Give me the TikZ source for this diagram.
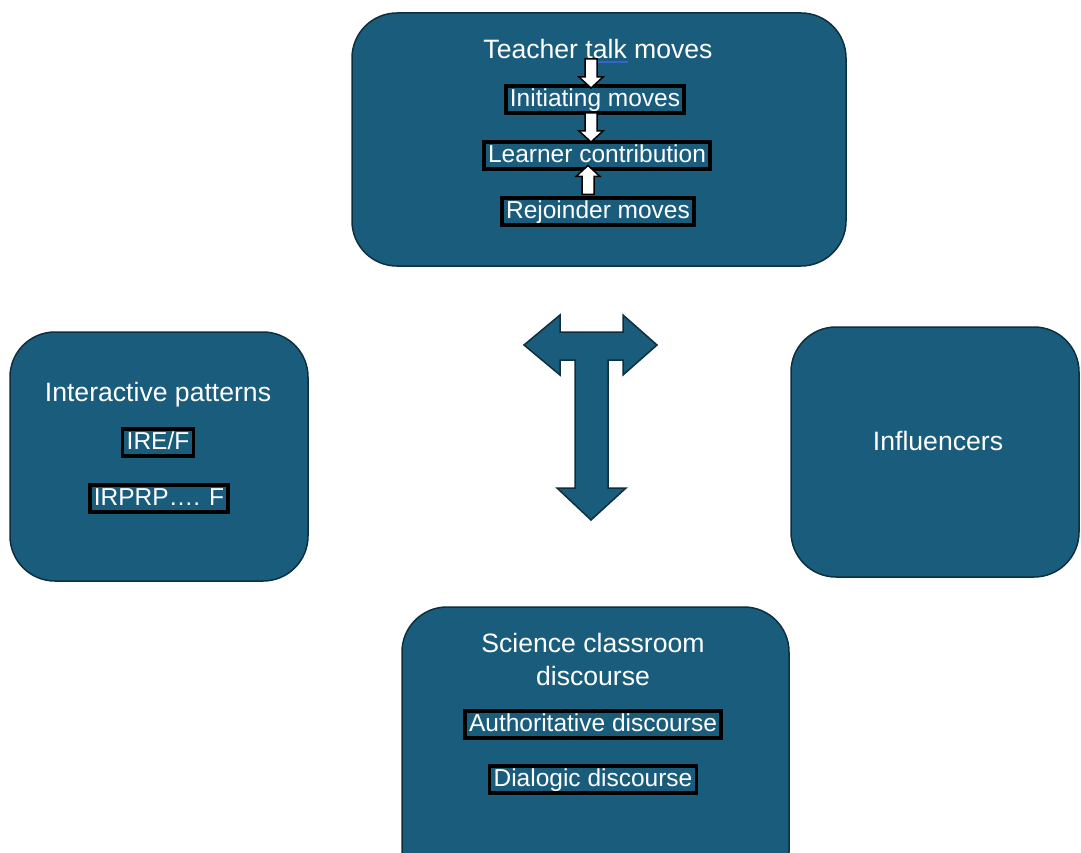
\documentclass[tikz,border=0pt]{standalone}
\usepackage{fontspec}
\setmainfont{Liberation Sans}
\usetikzlibrary{calc}
\definecolor{boxblue}{HTML}{1A5C7C}
\definecolor{edge}{HTML}{0E2F40}
\definecolor{ulblue}{HTML}{3A63C9}
\newcommand\wdown[1]{\draw[warr] (#1) ++(-6,-14.5) -- ++(12,0) -- ++(0,18) -- ++(6,0) -- ++(-12,11) -- ++(-12,-11) -- ++(6,0) -- cycle;}
\newcommand\wup[1]{\draw[warr] (#1) ++(-6,14.5) -- ++(12,0) -- ++(0,-18) -- ++(6,0) -- ++(-12,-11) -- ++(-12,11) -- ++(6,0) -- cycle;}
\begin{document}
\begin{tikzpicture}[x=1pt,y=-1pt,
  bigbox/.style={draw=edge, line width=1.5pt, fill=boxblue, rounded corners=45pt, inner sep=0pt},
  ttl/.style={text=white, font=\fontsize{26.6}{33}\selectfont, inner sep=0pt, text height=20pt, text depth=5.3pt},
  ttlm/.style={text=white, font=\fontsize{26.6}{33}\selectfont, inner sep=0pt, align=center},
  lbl/.style={draw=black, line width=3.5pt, fill=boxblue, text=white, font=\fontsize{24.5}{29}\selectfont, inner xsep=4pt, inner ysep=2pt, text height=18.4pt, text depth=4.9pt},
  warr/.style={draw=black, line width=1.5pt, fill=white, line join=miter},
  tarr/.style={draw=edge, line width=1.5pt, fill=boxblue, line join=miter}]
\useasboundingbox (0,0) rectangle (1081,853);
\clip (0,0) rectangle (1081,853);
\fill[white] (0,0) rectangle (1081,853);

% containers
\node[bigbox, minimum width=494pt, minimum height=253pt] (top) at (599,139.5) {};
\node[bigbox, minimum width=298pt, minimum height=249pt] (left) at (159,456.5) {};
\node[bigbox, minimum width=288pt, minimum height=250pt] (right) at (935,452) {};
\node[bigbox, minimum width=387pt, minimum height=290pt] (bottom) at (595.5,752) {};

% top box content
\node[ttl] (tt) at (598,51) {Teacher talk moves};
\draw[ulblue, line width=2pt] (586,62) -- (628,62);
\node[lbl] (im) at (595,99.5) {Initiating moves};
\node[lbl] (lc) at (597,155.5) {Learner contribution};
\node[lbl] (rm) at (598,211.5) {Rejoinder moves};
\coordinate (a1) at (591,73.5);
\coordinate (a2) at (591,127.5);
\coordinate (a3) at (588,180);
\wdown{a1}
\wdown{a2}
\wup{a3}

% left box content
\node[ttl] (ip) at (158,394) {Interactive patterns};
\node[lbl] (ire) at (158,442.5) {IRE/F};
\node[lbl] (irp) at (159,498.5) {IRPRP…. F};

% right box content
\node[ttl] (inf) at (938,443) {Influencers};

% bottom box content
\node[ttlm] (scd) at (593,659) {Science classroom\\discourse};
\node[lbl] (ad) at (593,724.5) {Authoritative discourse};
\node[lbl] (dd) at (593,779.5) {Dialogic discourse};

% T-shaped arrow
\draw[tarr] (524,345) -- (560,315) -- (560,332) -- (623,332) -- (623,315) -- (657,345)
  -- (623,375) -- (623,360) -- (608,360) -- (608,488) -- (626,488) -- (591,520)
  -- (557,488) -- (575,488) -- (575,360) -- (560,360) -- (560,375) -- cycle;
\end{tikzpicture}
\end{document}
